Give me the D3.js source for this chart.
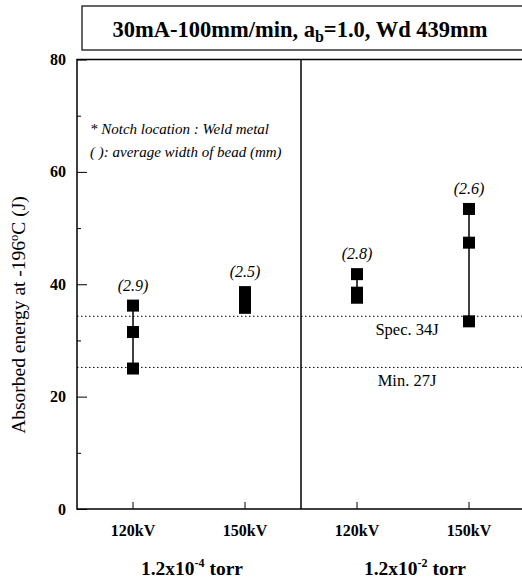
<!DOCTYPE html>
<html><head><meta charset="utf-8">
<script src="https://cdn.jsdelivr.net/npm/d3@7"></script>
<style>
html,body{margin:0;padding:0;background:#fff;}
svg{display:block;}
svg text{fill:#000;}
</style></head>
<body>
<svg id="chart" width="522" height="588" font-family="Liberation Serif, serif"></svg>
<script>
// ---- data ----
const categories = ["120kV", "150kV", "120kV", "150kV"];
const groupLabels = [["1.2x10", "-4", " torr"], ["1.2x10", "-2", " torr"]];
const cat1Values = [36.2, 31.5, 25.0];
const cat2Values = [38.6, 37.2, 35.8];
const cat3Values = [41.8, 38.5, 37.6];
const cat4Values = [53.4, 47.4, 33.4];
const seriesValues = [cat1Values, cat2Values, cat3Values, cat4Values];
const beadWidths = ["(2.9)", "(2.5)", "(2.8)", "(2.6)"];
const refValues = [34.3, 25.2];
const refLabels = ["Spec. 34J", "Min. 27J"];
const yTicks = [0, 20, 40, 60, 80];
const yMinorTicks = [10, 30, 50, 70];

// ---- layout ----
const FONT = "Liberation Serif";
const svg = d3.select("#chart");
const x = d3.scaleBand().domain(d3.range(categories.length)).range([77, 525]).padding(0);
const y = d3.scaleLinear().domain([0, 80]).range([509, 59.5]);
const cx = i => x(i) + x.bandwidth() / 2;
const txt = (sel) => sel.append("text").attr("font-family", FONT);

// title box
svg.append("rect").attr("x", 82).attr("y", 6).attr("width", 460).attr("height", 44)
  .attr("fill", "none").attr("stroke", "#000").attr("stroke-width", 1.2);
const t = txt(svg).attr("x", 300).attr("y", 37).attr("text-anchor", "middle")
  .attr("font-size", 22.5).attr("font-weight", "bold");
t.append("tspan").text("30mA-100mm/min, a");
t.append("tspan").attr("font-size", 16).attr("dy", 5).text("b");
t.append("tspan").attr("dy", -5).text("=1.0, Wd 439mm");

// plot frame
svg.append("rect").attr("x", 77).attr("y", y(80)).attr("width", 470).attr("height", y(0) - y(80))
  .attr("fill", "none").attr("stroke", "#000").attr("stroke-width", 1.5);
// divider between groups
svg.append("line").attr("x1", x(2)).attr("x2", x(2)).attr("y1", y(80)).attr("y2", y(0))
  .attr("stroke", "#000").attr("stroke-width", 1.5);

// y axis ticks
const yAxis = d3.axisRight(y).tickValues(yTicks).tickSize(10).tickFormat("");
const ga = svg.append("g").attr("transform", "translate(77,0)").call(yAxis);
ga.select(".domain").remove();
ga.selectAll("line").attr("stroke-width", 1);
const yMinor = d3.axisRight(y).tickValues(yMinorTicks).tickSize(4).tickFormat("");
const gm = svg.append("g").attr("transform", "translate(77,0)").call(yMinor);
gm.select(".domain").remove();
svg.selectAll(".ylab").data(yTicks).join("text").attr("class", "ylab").attr("font-family", FONT)
  .attr("x", 66).attr("y", d => y(d) + 5.5).attr("text-anchor", "end")
  .attr("font-size", 16).attr("font-weight", "bold").text(d => d);

// y title
const yt = txt(svg).attr("transform", "translate(25,315) rotate(-90)")
  .attr("text-anchor", "middle").attr("font-size", 19.5);
yt.append("tspan").text("Absorbed energy at -196");
yt.append("tspan").attr("font-size", 12.5).attr("dy", -7).text("o");
yt.append("tspan").attr("dy", 7).text("C (J)");

// x axis ticks
const xAxis = d3.axisTop(x).tickSize(7).tickFormat("");
const gx = svg.append("g").attr("transform", `translate(0,${y(0)})`).call(xAxis);
gx.select(".domain").remove();
svg.selectAll(".xlab").data(categories).join("text").attr("class", "xlab").attr("font-family", FONT)
  .attr("x", (d, i) => cx(i)).attr("y", 536).attr("text-anchor", "middle")
  .attr("font-size", 16).attr("font-weight", "bold").text(d => d);

// group labels
const groupCenters = [192, 415];
groupLabels.forEach((g, i) => {
  const tx = txt(svg).attr("x", groupCenters[i]).attr("y", 575)
    .attr("text-anchor", "middle").attr("font-size", 19.5).attr("font-weight", "bold");
  tx.append("tspan").text(g[0]);
  tx.append("tspan").attr("font-size", 12).attr("dy", -8).text(g[1]);
  tx.append("tspan").attr("dy", 8).text(g[2]);
});

// reference lines
refValues.forEach((v, i) => {
  svg.append("line").attr("x1", 77).attr("x2", 522).attr("y1", y(v)).attr("y2", y(v))
    .attr("stroke", "#000").attr("stroke-width", 1).attr("stroke-dasharray", "1.5,2.5");
  txt(svg).attr("x", 407).attr("y", y(v) + 19).attr("text-anchor", "middle")
    .attr("font-size", 16.5).text(refLabels[i]);
});

// notes
txt(svg).attr("x", 90).attr("y", 134).attr("font-size", 15).attr("font-style", "italic")
  .text("* Notch location : Weld metal");
txt(svg).attr("x", 90).attr("y", 157).attr("font-size", 15).attr("font-style", "italic")
  .text("( ): average width of bead (mm)");

// data
const sq = 12;
seriesValues.forEach((vals, i) => {
  const g = svg.append("g");
  g.append("line").attr("x1", cx(i)).attr("x2", cx(i))
    .attr("y1", y(d3.max(vals))).attr("y2", y(d3.min(vals)))
    .attr("stroke", "#000").attr("stroke-width", 1.5);
  g.selectAll("rect").data(vals).join("rect")
    .attr("x", cx(i) - sq / 2).attr("y", d => y(d) - sq / 2)
    .attr("width", sq).attr("height", sq).attr("fill", "#000");
  txt(g).attr("x", cx(i)).attr("y", y(d3.max(vals)) - 15)
    .attr("text-anchor", "middle").attr("font-size", 16).attr("font-style", "italic")
    .text(beadWidths[i]);
});
</script>
</body></html>
